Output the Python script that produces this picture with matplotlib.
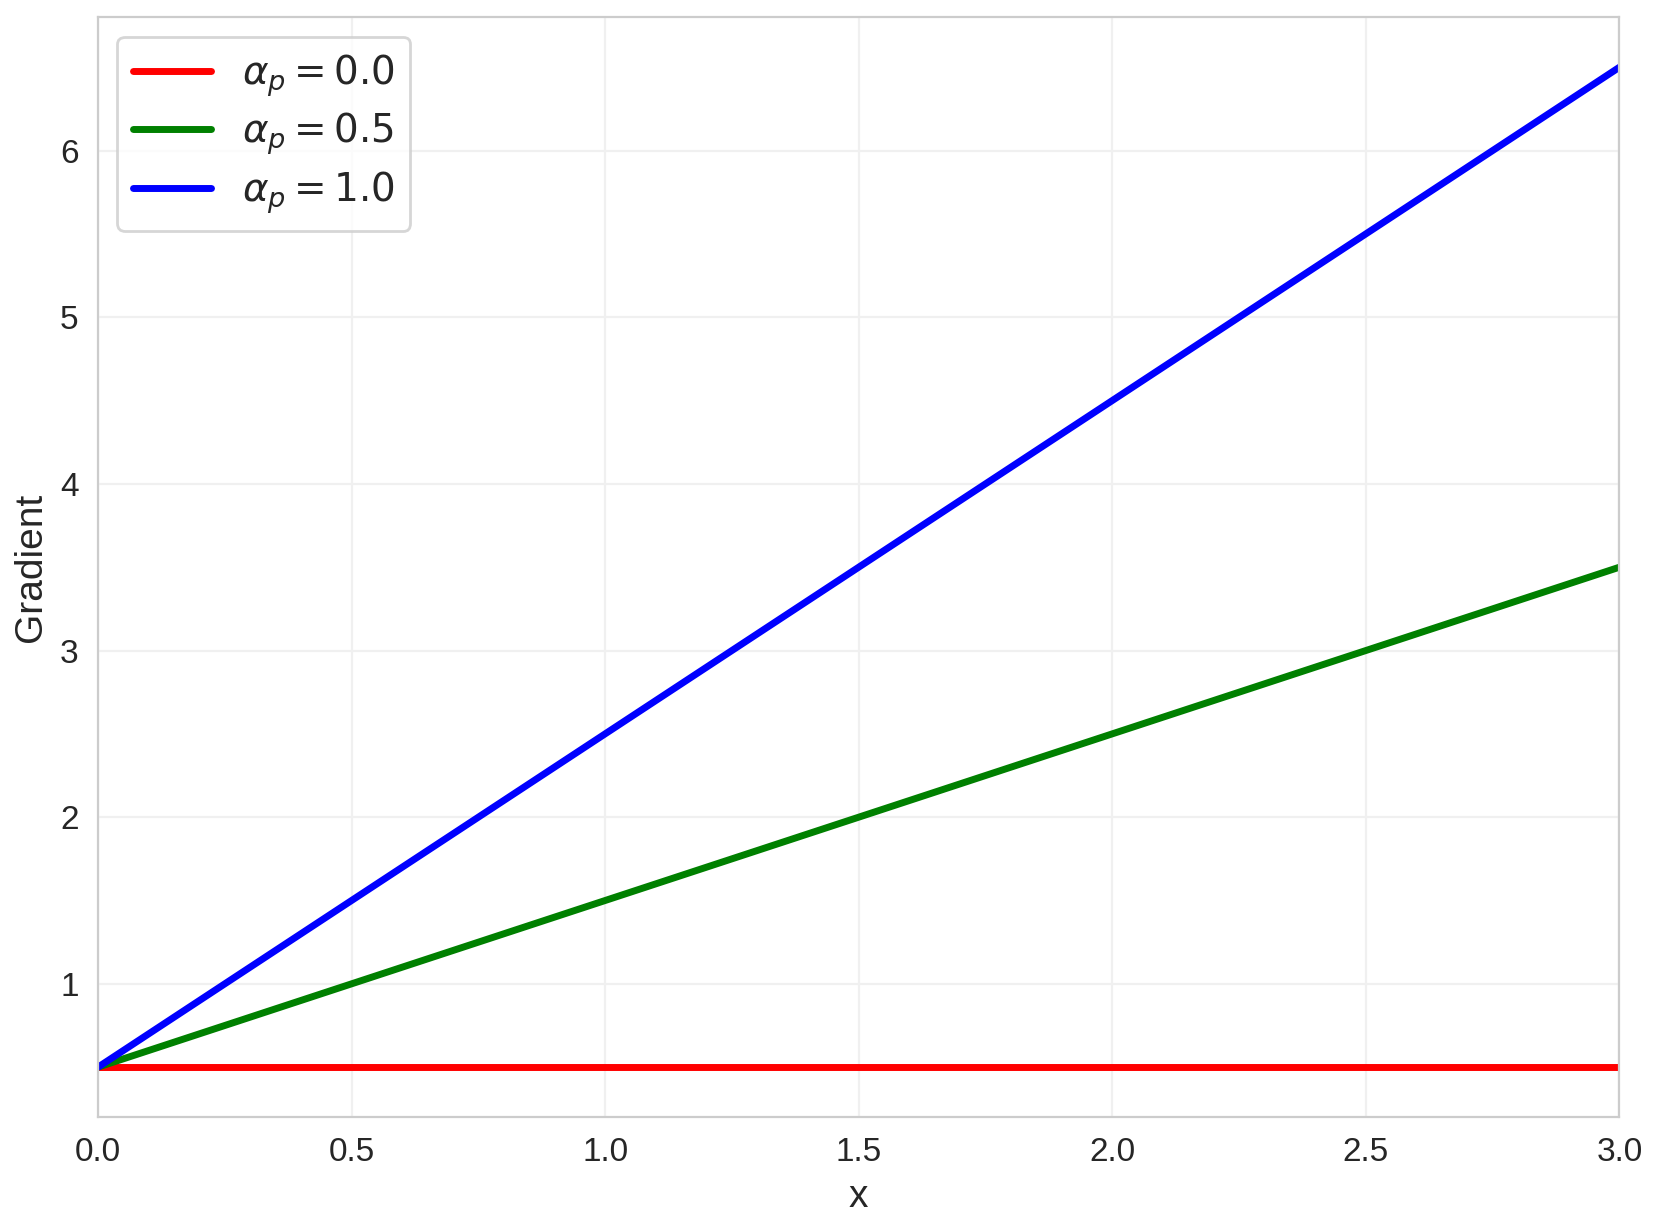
import numpy as np
import seaborn as sns
from matplotlib import pyplot as plt

sns.set_style("whitegrid")
plt.rcParams['font.family'] = ['Liberation Sans', 'DejaVu Sans']

x = [0.0, 3.0]
alphas = [0.0, 0.5, 1.0]
grad_a0 = [0.5, 0.5]
grad_a05 = [0.5, 3.5]
grad_a10 = [0.5, 6.5]
colors = ['red', 'green', 'blue']

fig, ax = plt.subplots(figsize=(8.305, 6.145), dpi=200)

for a, g, c in zip(alphas, [grad_a0, grad_a05, grad_a10], colors):
    ax.plot(x, g, color=c, lw=2.5, label=r'$\alpha_p = %.1f$' % a)

ax.set_xlim(0, 3)
ax.set_xlabel('x', fontsize=14)
ax.set_ylabel('Gradient', fontsize=14)
ax.tick_params(labelsize=12)
ax.grid(True, color='#f0f0f0', lw=0.8)
for s in ax.spines.values():
    s.set_color('#cccccc')
ax.legend(loc='upper left', fontsize=14, labelspacing=0.3)

fig.subplots_adjust(left=0.059, right=0.975, top=0.986, bottom=0.091)
plt.savefig('out.png')
